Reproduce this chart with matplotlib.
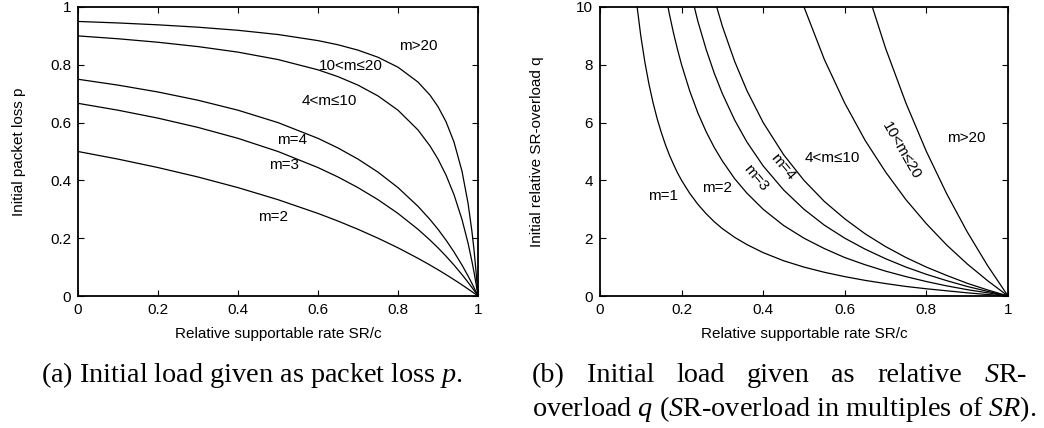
import matplotlib
matplotlib.use('Agg')
import matplotlib.pyplot as plt

plt.rcParams['font.family'] = ['Liberation Sans', 'DejaVu Sans']
plt.rcParams['mathtext.fontset'] = 'custom'
plt.rcParams['mathtext.rm'] = 'Liberation Serif'
plt.rcParams['mathtext.it'] = 'Liberation Serif:italic'

# (a) initial packet loss p vs relative supportable rate SR/c
x_a = [0, 0.1, 0.2, 0.3, 0.4, 0.5, 0.6, 0.65, 0.7, 0.75, 0.8, 0.85, 0.88, 0.9,
       0.92, 0.94, 0.96, 0.975, 0.985, 0.99, 0.995, 1.0]
p_m2 = [0.5, 0.4737, 0.4444, 0.4118, 0.375, 0.3333, 0.2857, 0.2593, 0.2308, 0.2,
        0.1667, 0.1304, 0.1071, 0.0909, 0.0741, 0.0566, 0.0385, 0.0244, 0.0148,
        0.0099, 0.005, 0]
p_m3 = [0.6667, 0.6429, 0.6154, 0.5833, 0.5455, 0.5, 0.4444, 0.4118, 0.375, 0.3333,
        0.2857, 0.2308, 0.1935, 0.1667, 0.1379, 0.1071, 0.0741, 0.0476, 0.0291,
        0.0196, 0.0099, 0]
p_m4 = [0.75, 0.7297, 0.7059, 0.6774, 0.6429, 0.6, 0.5455, 0.5122, 0.4737, 0.4286,
        0.375, 0.3103, 0.2647, 0.2308, 0.1935, 0.1525, 0.1071, 0.0698, 0.0431,
        0.0291, 0.0148, 0]
p_m10 = [0.9, 0.8901, 0.878, 0.863, 0.8438, 0.8182, 0.7826, 0.759, 0.7297, 0.6923,
         0.6429, 0.5745, 0.5192, 0.4737, 0.4186, 0.3506, 0.2647, 0.1837, 0.1189,
         0.0826, 0.0431, 0]
p_m20 = [0.95, 0.9448, 0.9383, 0.9301, 0.9194, 0.9048, 0.8837, 0.8693, 0.8507, 0.8261,
         0.7917, 0.7403, 0.6951, 0.6552, 0.6032, 0.5327, 0.4318, 0.322, 0.2218,
         0.1597, 0.0868, 0]

# (b) initial relative SR-overload q vs SR/c
x_b = [0.08, 0.09, 0.1, 0.11, 0.12, 0.13, 0.14, 0.15, 0.16, 0.17, 0.18, 0.19, 0.2,
       0.22, 0.24, 0.26, 0.28, 0.3, 0.33, 0.36, 0.4, 0.45, 0.5, 0.55, 0.6, 0.65,
       0.7, 0.75, 0.8, 0.85, 0.9, 0.95, 1.0]
q_m1 = [11.5, 10.11, 9.0, 8.09, 7.33, 6.69, 6.14, 5.67, 5.25, 4.88, 4.56, 4.26, 4.0,
        3.55, 3.17, 2.85, 2.57, 2.33, 2.03, 1.78, 1.5, 1.22, 1.0, 0.82, 0.67, 0.54,
        0.43, 0.33, 0.25, 0.18, 0.11, 0.05, 0]
q_m2 = [23.0, 20.22, 18.0, 16.18, 14.67, 13.38, 12.29, 11.33, 10.5, 9.76, 9.11, 8.53,
        8.0, 7.09, 6.33, 5.69, 5.14, 4.67, 4.06, 3.56, 3.0, 2.44, 2.0, 1.64, 1.33,
        1.08, 0.86, 0.67, 0.5, 0.35, 0.22, 0.11, 0]
q_m3 = [34.5, 30.33, 27.0, 24.27, 22.0, 20.08, 18.43, 17.0, 15.75, 14.65, 13.67,
        12.79, 12.0, 10.64, 9.5, 8.54, 7.71, 7.0, 6.09, 5.33, 4.5, 3.67, 3.0, 2.45,
        2.0, 1.62, 1.29, 1.0, 0.75, 0.53, 0.33, 0.16, 0]
q_m4 = [46.0, 40.44, 36.0, 32.36, 29.33, 26.77, 24.57, 22.67, 21.0, 19.53, 18.22,
        17.05, 16.0, 14.18, 12.67, 11.38, 10.29, 9.33, 8.12, 7.11, 6.0, 4.89, 4.0,
        3.27, 2.67, 2.15, 1.71, 1.33, 1.0, 0.71, 0.44, 0.21, 0]
q_m10 = [115.0, 101.1, 90.0, 80.9, 73.3, 66.9, 61.4, 56.7, 52.5, 48.8, 45.6, 42.6,
         40.0, 35.45, 31.67, 28.46, 25.71, 23.33, 20.3, 17.78, 15.0, 12.22, 10.0,
         8.18, 6.67, 5.38, 4.29, 3.33, 2.5, 1.76, 1.11, 0.53, 0]
q_m20 = [230.0, 202.2, 180.0, 161.8, 146.7, 133.8, 122.9, 113.3, 105.0, 97.6, 91.1,
         85.3, 80.0, 70.9, 63.3, 56.9, 51.4, 46.7, 40.6, 35.6, 30.0, 24.4, 20.0,
         16.36, 13.33, 10.77, 8.57, 6.67, 5.0, 3.53, 2.22, 1.05, 0]

xticks = [0, 0.2, 0.4, 0.6, 0.8, 1]
xtick_labels = ['0', '0.2', '0.4', '0.6', '0.8', '1']
yticks_a = [0, 0.2, 0.4, 0.6, 0.8, 1]
ytick_labels_a = ['0', '0.2', '0.4', '0.6', '0.8', '1']
yticks_b = [0, 2, 4, 6, 8, 10]

W, H = 1044, 428
fig = plt.figure(figsize=(W / 100, H / 100), dpi=100)


def px_axes(x0, y0, x1, y1):
    # axes rectangle from pixel corners (top-left origin)
    return fig.add_axes([x0 / W, 1 - y1 / H, (x1 - x0) / W, (y1 - y0) / H])


def style(ax):
    ax.set_xlim(0, 1)
    ax.set_xticks(xticks)
    ax.set_xticklabels(xtick_labels)
    ax.tick_params(direction='in', top=True, right=True, length=4, width=0.8,
                   labelsize=11, pad=5)
    for s in ax.spines.values():
        s.set_linewidth(1.3)
    ax.set_xlabel('Relative supportable rate SR/c', fontsize=11, labelpad=7)


lw = 0.9
fs = 11

ax1 = px_axes(78, 7, 478, 296)
for ys in [p_m2, p_m3, p_m4, p_m10, p_m20]:
    ax1.plot(x_a, ys, color='black', lw=lw)
style(ax1)
ax1.set_ylim(0, 1)
ax1.set_yticks(yticks_a)
ax1.set_yticklabels(ytick_labels_a)
ax1.set_ylabel('Initial packet loss p', fontsize=11, labelpad=17)

ax1.text(0.85, 0.865, 'm>20', fontsize=fs, ha='center', va='center')
ax1.text(0.681, 0.797, '10<m≤20', fontsize=fs, ha='center', va='center')
ax1.text(0.628, 0.676, '4<m≤10', fontsize=fs, ha='center', va='center')
ax1.text(0.536, 0.540, 'm=4', fontsize=fs, ha='center', va='center')
ax1.text(0.515, 0.453, 'm=3', fontsize=fs, ha='center', va='center')
ax1.text(0.4875, 0.274, 'm=2', fontsize=fs, ha='center', va='center')

ax2 = px_axes(600, 7, 1008, 296)
for ys in [q_m1, q_m2, q_m3, q_m4, q_m10, q_m20]:
    ax2.plot(x_b, ys, color='black', lw=lw)
style(ax2)
ax2.set_ylim(0, 10)
ax2.set_yticks(yticks_b)
ax2.set_ylabel('Initial relative SR-overload q', fontsize=11, labelpad=23)

ax2.text(0.154, 3.47, 'm=1', fontsize=fs, ha='center', va='center')
ax2.text(0.286, 3.74, 'm=2', fontsize=fs, ha='center', va='center')
ax2.text(0.381, 4.07, 'm=3', fontsize=fs, ha='center', va='center', rotation=-50,
         rotation_mode='anchor')
ax2.text(0.449, 4.46, 'm=4', fontsize=fs, ha='center', va='center', rotation=-50,
         rotation_mode='anchor')
ax2.text(0.570, 4.78, '4<m≤10', fontsize=fs, ha='center', va='center')
ax2.text(0.739, 5.02, '10<m≤20', fontsize=fs, ha='center', va='center', rotation=-60,
         rotation_mode='anchor')
ax2.text(0.899, 5.48, 'm>20', fontsize=fs, ha='center', va='center')

# captions (Times-like serif)
cap = dict(fontsize=20.3, family='Liberation Serif', va='baseline')
fig.text(252 / W, 1 - 382 / H, '(a) Initial load given as packet loss $p$.',
         ha='center', **cap)

# caption (b), first line justified between x0 and x1
words_b = ['(b)', 'Initial', 'load', 'given', 'as', 'relative', '$S$R-']
x0, x1 = 532, 1027
renderer = fig.canvas.get_renderer()
items = [fig.text(0, 1 - 382 / H, w, ha='left', **cap) for w in words_b]
widths = [t.get_window_extent(renderer).width for t in items]
gap = (x1 - x0 - sum(widths)) / (len(items) - 1)
xp = x0
for t, wd in zip(items, widths):
    t.set_x(xp / W)
    xp += wd + gap
fig.text(x0 / W, 1 - 416 / H,
         'overload $q$ ($S$R-overload in multiples of $SR$).', ha='left', **cap)

fig.savefig('out.png', dpi=100)
